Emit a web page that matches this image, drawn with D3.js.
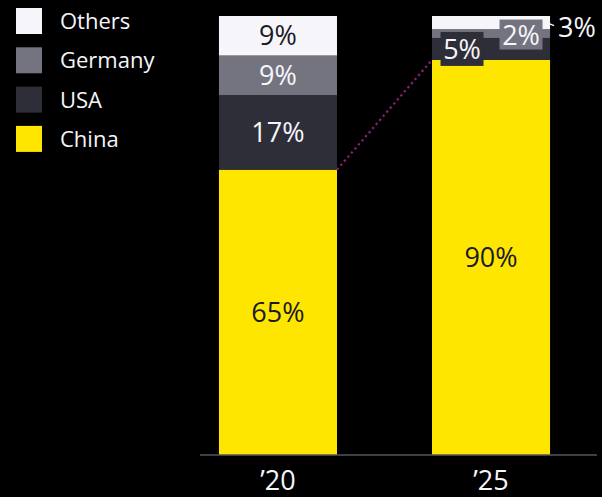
<!DOCTYPE html>
<html>
<head>
<meta charset="utf-8">
<script src="https://cdn.jsdelivr.net/npm/d3@7"></script>
<style>
  body { margin: 0; background: #000; }
  svg { display: block; font-family: "Open Sans", sans-serif; }
</style>
</head>
<body>
<div id="chart"></div>
<script>
// data
const years = ["’20", "’25"];
const seriesNames = ["China", "USA", "Germany", "Others"];
const china = [65, 90];
const usa = [17, 5];
const germany = [9, 2];
const others = [9, 3];

const colors = {
  China: "#ffe600",
  USA: "#2e2e38",
  Germany: "#747480",
  Others: "#f6f6fa",
};
const labelColors = {
  China: "#1a1a24",
  USA: "#f6f6fa",
  Germany: "#f6f6fa",
  Others: "#1a1a24",
};

const width = 602;
const height = 497;
const margin = { top: 16, right: 5, bottom: 42, left: 200 };
const innerH = height - margin.top - margin.bottom;

const table = years.map((y, i) => ({
  year: y,
  China: china[i],
  USA: usa[i],
  Germany: germany[i],
  Others: others[i],
}));

const stack = d3.stack().keys(seriesNames);
const layers = stack(table);

const xScale = d3.scaleBand().domain(years).range([0, 369]).paddingInner(0.446).paddingOuter(0.089);
const yScale = d3.scaleLinear().domain([0, 100]).range([innerH, 0]);

const svg = d3.select("#chart").append("svg")
  .attr("width", width)
  .attr("height", height);

const g = svg.append("g").attr("transform", `translate(${margin.left},${margin.top})`);

// bars
const layerG = g.selectAll(".layer")
  .data(layers)
  .enter().append("g")
  .attr("fill", d => colors[d.key]);

layerG.selectAll("rect")
  .data(d => d)
  .enter().append("rect")
  .attr("x", d => xScale(d.data.year))
  .attr("y", d => yScale(d[1]))
  .attr("width", xScale.bandwidth())
  .attr("height", d => yScale(d[0]) - yScale(d[1]));

// dotted connector between the China tops
const chinaLayer = layers[0];
g.append("line")
  .attr("x1", xScale(years[0]) + xScale.bandwidth())
  .attr("y1", yScale(chinaLayer[0][1]))
  .attr("x2", xScale(years[1]))
  .attr("y2", yScale(chinaLayer[1][1]))
  .attr("stroke", "#8f1f7a")
  .attr("stroke-width", 2.2)
  .attr("stroke-dasharray", "2.2,3.2");

// axis line
g.append("line")
  .attr("x1", 0).attr("x2", 397)
  .attr("y1", innerH).attr("y2", innerH)
  .attr("stroke", "#555560")
  .attr("stroke-width", 1.5);

// tick labels
g.selectAll(".tick-label")
  .data(years)
  .enter().append("text")
  .attr("x", d => xScale(d) + xScale.bandwidth() / 2)
  .attr("y", innerH + 35)
  .attr("text-anchor", "middle")
  .attr("fill", "#f6f6fa")
  .attr("font-size", 27)
  .text(d => d);

// segment labels
const fontSize = 27;
layers.forEach(layer => {
  layer.forEach((d, i) => {
    const key = layer.key;
    const cx = xScale(d.data.year) + xScale.bandwidth() / 2;
    const cy = (yScale(d[0]) + yScale(d[1])) / 2;
    const txt = `${d.data[key]}%`;
    const segH = yScale(d[0]) - yScale(d[1]);
    if (segH > 30) {
      g.append("text")
        .attr("x", cx).attr("y", cy)
        .attr("dy", "0.36em")
        .attr("text-anchor", "middle")
        .attr("fill", labelColors[key])
        .attr("font-size", fontSize)
        .text(txt);
      return;
    }
    // small segments: boxed or outside labels
    const barL = xScale(d.data.year);
    const barR = barL + xScale.bandwidth();
    if (key === "USA") {
      const bx = cx - 29;
      g.append("rect")
        .attr("x", bx - 21.5).attr("y", cy - 17)
        .attr("width", 43).attr("height", 34)
        .attr("fill", colors.USA);
      g.append("text")
        .attr("x", bx).attr("y", cy)
        .attr("dy", "0.36em").attr("text-anchor", "middle")
        .attr("fill", "#f6f6fa").attr("font-size", fontSize)
        .text(txt);
    } else if (key === "Germany") {
      const bx = cx + 30;
      g.append("rect")
        .attr("x", bx - 21.5).attr("y", cy - 14)
        .attr("width", 43).attr("height", 30)
        .attr("fill", colors.Germany);
      g.append("text")
        .attr("x", bx).attr("y", cy + 1.5)
        .attr("dy", "0.36em").attr("text-anchor", "middle")
        .attr("fill", "#f6f6fa").attr("font-size", fontSize)
        .text(txt);
    } else {
      g.append("line")
        .attr("x1", barR - 6).attr("y1", cy - 1)
        .attr("x2", barR + 4).attr("y2", cy + 3)
        .attr("stroke", "#f6f6fa").attr("stroke-width", 1.5);
      g.append("text")
        .attr("x", barR + 8).attr("y", cy + 5)
        .attr("dy", "0.36em")
        .attr("fill", "#f6f6fa").attr("font-size", fontSize)
        .text(txt);
    }
  });
});

// legend
const legendOrder = ["Others", "Germany", "USA", "China"];
const legend = svg.append("g")
  .selectAll("g")
  .data(legendOrder)
  .enter().append("g")
  .attr("transform", (d, i) => `translate(16,${8 + i * 39.3})`);

legend.append("rect")
  .attr("width", 26).attr("height", 26)
  .attr("fill", d => colors[d]);

legend.append("text")
  .attr("x", 44).attr("y", 13)
  .attr("dy", "0.36em")
  .attr("fill", "#f6f6fa")
  .attr("font-size", 22)
  .text(d => d);
</script>
</body>
</html>
